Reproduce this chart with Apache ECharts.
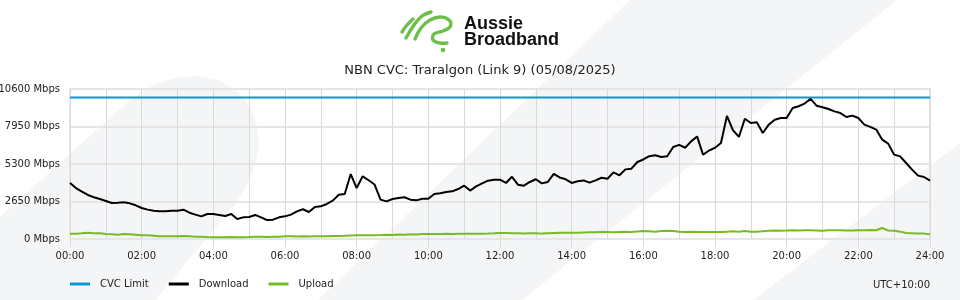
<!DOCTYPE html>
<html>
<head>
<meta charset="utf-8">
<script src="https://cdn.jsdelivr.net/npm/echarts@6/dist/echarts.min.js"></script>
<style>
html,body{margin:0;padding:0;background:#fff;}
#chart{width:960px;height:300px;}
</style>
</head>
<body>
<div id="chart"></div>
<script>
// ---- data ----
const titleText = 'NBN CVC: Traralgon (Link 9) (05/08/2025)';
const seriesNames = ['CVC Limit', 'Download', 'Upload'];
const stepMinutes = 10; // samples every 10 minutes from 00:00 to 24:00
const xTickLabels = ['00:00','02:00','04:00','06:00','08:00','10:00','12:00','14:00','16:00','18:00','20:00','22:00','24:00'];
const yTicks = [0, 2650, 5300, 7950, 10600];
const cvcLimit = 10000;

const download = [
  // 00:00 - 05:50
  3950, 3600, 3350, 3110, 2950, 2830,
  2690, 2545, 2570, 2600, 2520, 2380,
  2190, 2075, 2000, 1955, 1955, 2000,
  2000, 2070, 1860, 1720, 1600, 1770,
  1770, 1700, 1625, 1770, 1415, 1530,
  1555, 1700, 1530, 1340, 1365, 1530,
  // 06:00 - 11:50
  1600, 1720, 1955, 2100, 1910, 2260,
  2310, 2475, 2710, 3130, 3180, 4590,
  3600, 4430, 4150, 3850, 2780, 2660,
  2830, 2900, 2950, 2780, 2730, 2850,
  2850, 3180, 3230, 3320, 3370, 3530,
  3770, 3420, 3720, 3930, 4120, 4190,
  // 12:00 - 17:50
  4190, 3960, 4400, 3840, 3770, 4030,
  4220, 3930, 4030, 4600, 4350, 4220,
  3960, 4075, 4140, 3980, 4140, 4330,
  4260, 4710, 4500, 4920, 4970, 5440,
  5620, 5850, 5920, 5800, 5850, 6500,
  6650, 6450, 6900, 7250, 5950, 6250,
  // 18:00 - 23:50
  6450, 6785, 8700, 7700, 7210, 8500,
  8200, 8250, 7490, 8080, 8430, 8550,
  8550, 9260, 9380, 9570, 9900, 9420,
  9310, 9190, 9020, 8900, 8620, 8720,
  8550, 8080, 7920, 7730, 7020, 6740,
  5960, 5840, 5370, 4900, 4480, 4380,
  // 24:00
  4120
];

const upload = [
  377, 377, 400, 450, 400, 400,
  350, 330, 305, 350, 330, 305,
  260, 260, 235, 190, 190, 190,
  190, 210, 190, 165, 165, 140,
  118, 118, 118, 140, 118, 118,
  140, 165, 165, 140, 165, 165,
  190, 190, 180, 190, 175, 195,
  200, 200, 210, 215, 230, 250,
  260, 265, 260, 270, 280, 300,
  290, 320, 300, 340, 320, 350,
  360, 355, 360, 365, 360, 365,
  370, 365, 370, 375, 380, 400,
  430, 420, 410, 400, 380, 400,
  410, 380, 400, 420, 440, 440,
  450, 440, 460, 470, 480, 500,
  490, 480, 500, 510, 500, 530,
  560, 540, 520, 560, 580, 560,
  520, 500, 510, 500, 500, 490,
  490, 500, 520, 540, 520, 560,
  520, 520, 540, 580, 600, 590,
  600, 620, 600, 610, 610, 600,
  590, 620, 620, 610, 600, 600,
  620, 620, 630, 620, 780, 600,
  590, 520, 420, 400, 380, 380,
  340
];

// ---- chart ----
const colors = ['#0a96d8', '#000000', '#76bc21'];
const font = 'DejaVu Sans';
const bg = '#f4f5f7';
const green = '#6cc04a';
const toPairs = arr => arr.map((v, i) => [i * stepMinutes, v]);
const lastMinute = (download.length - 1) * stepMinutes;

function swoosh(points) {
  return {type: 'polyline', shape: {points: points, smooth: 0.4},
    style: {stroke: green, lineWidth: 3.4, lineCap: 'round', lineJoin: 'round', fill: null}};
}

const chart = echarts.init(document.getElementById('chart'), null, {renderer: 'canvas'});
chart.setOption({
  animation: false,
  backgroundColor: '#ffffff',
  color: colors,
  title: {
    text: titleText,
    left: 'center',
    top: 59,
    textStyle: {fontFamily: font, fontSize: 13, fontWeight: 'normal', color: '#222'}
  },
  graphic: [
    {type: 'polygon', z: -10, silent: true, shape: {points: [[0,217],[130,100],[152,86],[174,78],[196,76],[218,80],[237,91],[250,107],[257,125],[259,145],[255,165],[247,185],[236,203],[155,300],[0,300]]}, style: {fill: bg}},
    {type: 'polygon', z: -10, silent: true, shape: {points: [[630,0],[897,0],[522,300],[318,300]]}, style: {fill: bg}},
    {type: 'polygon', z: -10, silent: true, shape: {points: [[960,143],[960,300],[753,300]]}, style: {fill: bg}},
    // logo swooshes
    swoosh([[402,32],[407,25],[413,19]]),
    swoosh([[406,38],[414,25],[422,16],[431,12]]),
    swoosh([[415,39],[421,28],[430,20],[441,17],[450,21],[450,27],[443,31],[434,34],[433,40],[440,43],[447,43]]),
    {type: 'circle', shape: {cx: 443, cy: 50, r: 2.3}, style: {fill: green}},
    {type: 'text', left: 464, top: 15, style: {text: 'Aussie', font: 'bold 18px "Liberation Sans"', fill: '#111'}},
    {type: 'text', left: 464, top: 31, style: {text: 'Broadband', font: 'bold 18px "Liberation Sans"', fill: '#111'}},
    {type: 'text', right: 30, top: 280, style: {text: 'UTC+10:00', font: '10px "DejaVu Sans"', fill: '#222'}}
  ],
  legend: {
    data: seriesNames,
    left: 70,
    top: 279,
    padding: 0,
    icon: 'rect',
    itemWidth: 20,
    itemHeight: 3,
    itemGap: 20,
    textStyle: {fontFamily: font, fontSize: 10, color: '#222', padding: [0, 0, 0, 5]}
  },
  grid: {
    left: 70, right: 30, top: 89, bottom: 61,
    outerBoundsMode: 'none',
    containLabel: false,
    show: true, borderColor: '#e6e6e6', borderWidth: 2, backgroundColor: 'transparent'
  },
  xAxis: {
    type: 'value',
    min: 0,
    max: lastMinute,
    interval: 120,
    axisLine: {show: false},
    axisTick: {show: true, length: 8, lineStyle: {color: '#d9d9d9'}},
    axisLabel: {
      fontFamily: font, fontSize: 10, color: '#222', margin: 12,
      formatter: v => xTickLabels[Math.round(v / 120)] || ''
    },
    splitLine: {show: true, lineStyle: {color: '#d9d9d9', width: 1}},
    minorTick: {show: false, splitNumber: 2},
    minorSplitLine: {show: true, lineStyle: {color: '#d9d9d9', width: 1}}
  },
  yAxis: {
    type: 'value',
    min: yTicks[0],
    max: yTicks[yTicks.length - 1],
    interval: yTicks[1] - yTicks[0],
    axisLine: {show: false},
    axisTick: {show: false},
    axisLabel: {fontFamily: font, fontSize: 10, color: '#222', margin: 10, formatter: v => v + ' Mbps'},
    splitLine: {show: true, lineStyle: {color: '#e6e6e6', width: 2}}
  },
  series: [
    {name: seriesNames[0], type: 'line', showSymbol: false, data: [[0, cvcLimit], [lastMinute, cvcLimit]], lineStyle: {width: 2}, z: 3},
    {name: seriesNames[1], type: 'line', showSymbol: false, data: toPairs(download), lineStyle: {width: 2}, z: 4},
    {name: seriesNames[2], type: 'line', showSymbol: false, data: toPairs(upload), lineStyle: {width: 2}, z: 4}
  ]
});
</script>
</body>
</html>
